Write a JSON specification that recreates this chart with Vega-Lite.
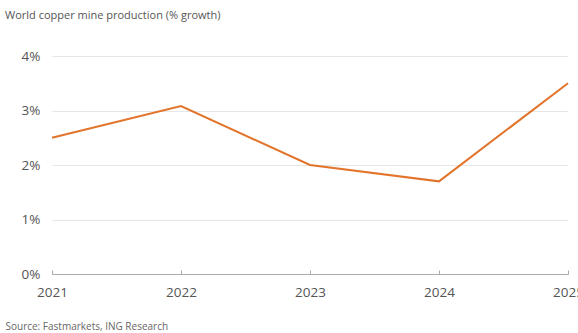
{
  "$schema": "https://vega.github.io/schema/vega-lite/v6.json",
  "width": 516,
  "height": 218,
  "autosize": {"type": "none"},
  "padding": {"left": 52, "top": 56, "right": 10, "bottom": 59},
  "background": "white",
  "config": {"view": {"stroke": null}, "font": "Open Sans"},
  "title": {
    "text": "World copper mine production (% growth)",
    "anchor": "start",
    "frame": "group",
    "dx": -47,
    "offset": 28,
    "fontSize": 11,
    "fontWeight": "normal",
    "color": "#555555"
  },
  "data": {
    "values": [
      {"year": 2021, "growth": 2.5},
      {"year": 2022, "growth": 3.08},
      {"year": 2023, "growth": 2.0},
      {"year": 2024, "growth": 1.7},
      {"year": 2025, "growth": 3.5}
    ]
  },
  "mark": {"type": "line", "color": "#E2742B", "strokeWidth": 2},
  "encoding": {
    "x": {
      "field": "year",
      "type": "quantitative",
      "scale": {"domain": [2021, 2025], "nice": false, "zero": false},
      "axis": {
        "values": [2021, 2022, 2023, 2024, 2025],
        "format": "d",
        "grid": false,
        "domainColor": "#aaaaaa",
        "tickColor": "#aaaaaa",
        "tickSize": -4,
        "labelColor": "#555555",
        "labelFontSize": 13.5,
        "labelPadding": 15,
        "labelFlush": false,
        "title": "Source: Fastmarkets, ING Research",
        "titleFontSize": 10,
        "titleFontWeight": "normal",
        "titleColor": "#666666",
        "titleAnchor": "start",
        "titleAlign": "left",
        "titleBaseline": "alphabetic",
        "titleX": -47,
        "titleY": 55
      }
    },
    "y": {
      "field": "growth",
      "type": "quantitative",
      "scale": {"domain": [0, 4], "nice": false},
      "axis": {
        "values": [0, 1, 2, 3, 4],
        "labelExpr": "datum.value + '%'",
        "domain": false,
        "ticks": false,
        "gridColor": "#e6e6e6",
        "labelColor": "#555555",
        "labelFontSize": 13.5,
        "labelPadding": 12,
        "title": null
      }
    }
  }
}
